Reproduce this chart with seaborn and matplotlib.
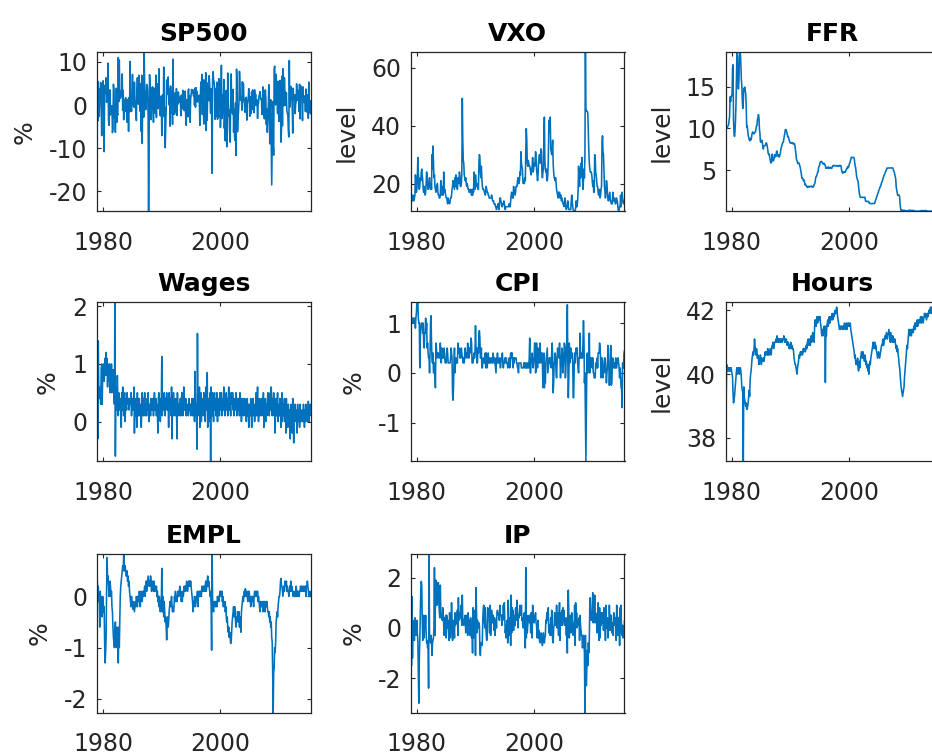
import numpy as np
import pandas as pd
import matplotlib
matplotlib.use("Agg")
import matplotlib.pyplot as plt
import seaborn as sns
from matplotlib.ticker import MultipleLocator, FormatStrFormatter

# Monthly observations, 1979:01 - 2015:06
months = pd.date_range("1979-01-01", "2015-06-01", freq="MS")
t = np.asarray(months.year + (months.month - 1) / 12.0)

# S&P 500, monthly log return (%)
sp500 = [
    3.9, -3.7, 5.4, 0.2, -2.6, 3.8, 0.9, 5.2, 0.0, -7.1, 4.2, 1.7,
    5.6, -0.4, -10.8, 4.0, 4.6, 2.7, 6.3, 0.6, 2.5, 1.6, 9.7, -3.5,
    -4.7, 1.3, 3.5, -2.3, -0.2, -1.0, -0.2, -6.4, -5.5, 4.8, 3.6, -3.0,
    -1.8, -6.3, -1.0, 3.9, -4.0, -2.0, -2.3, 11.0, 0.8, 10.4, 3.5, 1.5,
    3.2, 1.9, 3.2, 7.2, -1.2, 3.4, -3.4, 1.1, 1.0, -1.5, 1.7, -0.9,
    -0.9, -4.0, 1.3, 0.5, -6.1, 1.7, -1.6, 10.1, -0.3, 0.0, -1.5, 2.2,
    7.1, 0.9, -0.3, -0.5, 5.3, 1.2, -0.5, -1.2, -3.6, 4.2, 6.3, 4.4,
    0.2, 6.9, 5.2, -1.4, 4.9, 1.4, -6.1, 6.9, -8.9, 5.4, 2.1, -2.8,
    12.2, 3.6, 2.6, -1.1, 0.6, 4.7, 4.7, 3.4, -2.4, -24.6, -8.9, 7.0,
    3.9, 4.1, -3.4, 0.9, 0.3, 4.2, -0.5, -4.0, 3.9, 2.6, -1.9, 1.5,
    6.9, -2.9, 2.1, 4.9, 3.4, -0.8, 8.4, 1.6, -0.7, -2.5, 1.7, 2.1,
    -7.1, 0.9, 2.4, -2.7, 8.8, -0.9, -0.5, -9.9, -5.2, -0.7, 5.8, 2.5,
    4.1, 6.5, 2.2, 0.0, 3.8, -4.9, 4.4, 2.0, -1.9, 1.2, -4.5, 10.6,
    -2.0, 1.0, -2.2, 2.8, 0.1, -1.7, 3.8, -2.4, 0.9, 0.2, 3.0, 1.0,
    0.7, 1.0, 1.9, -2.5, 2.3, 0.1, -0.5, 3.4, -1.0, 1.9, -1.3, 1.0,
    3.2, -3.0, -4.7, 1.2, 1.2, -2.7, 3.1, 3.7, -2.7, 2.1, -4.0, 1.2,
    2.4, 3.6, 2.7, 2.8, 3.5, 2.1, 3.1, 0.0, 3.9, -0.5, 4.0, 1.7,
    3.2, 0.7, 0.8, 1.3, 2.3, 0.2, -4.7, 1.9, 5.3, 2.6, 7.1, -2.2,
    5.9, 0.6, -4.4, 5.6, 5.7, 4.2, 7.5, -5.9, 5.2, -3.5, 4.4, 1.6,
    1.0, 6.8, 4.9, 0.9, -1.9, 3.8, -1.2, -15.8, 6.0, 7.7, 5.7, 5.4,
    4.0, -3.3, 3.8, 3.7, -2.5, 5.3, -3.3, -0.6, -2.9, 6.1, 1.9, 5.6,
    -5.2, -2.0, 9.2, -3.1, -2.2, 2.4, -1.6, 5.9, -5.4, -0.5, -8.3, 0.4,
    3.4, -9.7, -6.6, 7.4, 0.5, -2.5, -1.1, -6.6, -8.6, 1.8, 7.2, 0.8,
    -1.6, -2.1, 3.6, -6.3, -0.9, -7.5, -8.2, 0.5, -11.7, 8.3, 5.5, -6.2,
    -2.8, -1.7, 0.8, 7.8, 5.0, 1.1, 1.6, 1.8, -1.2, 5.4, 0.7, 5.0,
    1.7, 1.2, -1.6, -1.7, 1.2, 1.8, -3.5, 0.2, 0.9, 1.4, 3.8, 3.2,
    -2.6, 1.9, -1.9, -2.0, 3.0, 0.0, 3.5, -1.1, 0.7, -1.8, 3.5, -0.1,
    2.5, 0.0, 1.1, 1.2, -3.1, 0.0, 0.5, 2.1, 2.4, 3.1, 1.6, 1.3,
    1.4, -2.2, 1.0, 4.2, 3.2, -1.8, -3.2, 1.3, 3.5, 1.5, -4.5, -0.9,
    -6.3, -3.5, -0.6, 4.7, 1.1, -9.0, -1.0, 1.2, -9.5, -18.5, -7.8, 0.8,
    -9.0, -11.6, 8.2, 9.0, 5.2, 0.0, 7.1, 3.3, 3.5, -2.0, 5.5, 1.8,
    -3.8, 2.8, 5.7, 1.5, -8.6, -5.5, 6.7, -4.8, 8.4, 3.6, -0.2, 6.3,
    2.2, 3.1, -0.1, 2.8, -1.4, -1.8, -2.2, -5.9, -7.4, 10.3, -0.5, 0.9,
    4.3, 4.0, 3.1, -0.7, -6.5, 3.9, 1.3, 2.0, 2.4, -2.0, 0.3, 0.7,
    4.9, 1.1, 3.5, 1.8, 2.1, -1.5, 4.8, -3.2, 2.9, 4.4, 2.8, 2.3,
    -3.6, 4.2, 0.7, 0.6, 2.1, 1.9, -1.5, 3.7, -1.6, 2.3, 2.4, -0.4,
    -3.1, 5.3, -1.8, 0.9, 1.0, -2.1,
]

# VXO stock-market volatility index (level)
vxo = [
    17, 16, 15, 14, 16, 15, 14, 15, 16, 23, 21, 17,
    18, 22, 29, 24, 19, 18, 19, 22, 21, 24, 25, 23,
    21, 18, 17, 19, 17, 16, 17, 20, 24, 22, 19, 18,
    19, 21, 22, 19, 18, 20, 18, 30, 25, 33, 27, 22,
    23, 19, 18, 17, 19, 18, 20, 17, 16, 16, 15, 15,
    16, 21, 17, 16, 19, 17, 16, 24, 17, 18, 17, 16,
    15, 15, 14, 13, 15, 14, 14, 13, 14, 15, 15, 16,
    18, 19, 21, 20, 19, 18, 22, 19, 23, 20, 19, 18,
    22, 21, 20, 24, 23, 19, 19, 20, 23, 49.5, 35, 28,
    27, 23, 22, 21, 22, 20, 19, 20, 19, 18, 18, 17,
    17, 18, 17, 17, 16, 18, 16, 18, 17, 24, 19, 18,
    23, 21, 19, 20, 19, 18, 18, 27, 30, 29, 24, 22,
    26, 22, 19, 18, 18, 18, 17, 17, 16, 17, 19, 18,
    17, 17, 16, 16, 15, 15, 15, 15, 15, 16, 15, 14,
    14, 14, 13, 13, 13, 12, 12, 11, 12, 12, 13, 12,
    11, 13, 15, 15, 14, 13, 12, 12, 13, 13, 14, 13,
    12, 11, 12, 12, 12, 12, 12, 12, 12, 13, 12, 12,
    14, 16, 17, 16, 15, 15, 19, 17, 17, 16, 17, 19,
    19, 19, 21, 22, 20, 20, 21, 24, 23, 31, 27, 26,
    25, 21, 20, 21, 20, 22, 21, 32, 39, 35, 27, 26,
    28, 27, 26, 26, 25, 24, 23, 25, 26, 29, 24, 25,
    27, 26, 28, 31, 29, 25, 23, 21, 23, 27, 29, 30,
    28, 27, 32, 31, 24, 22, 24, 25, 37, 43, 28, 25,
    24, 25, 21, 21, 23, 28, 39, 42, 38, 43, 32, 31,
    30, 32, 35, 27, 24, 22, 22, 21, 22, 20, 18, 17,
    16, 15, 17, 16, 17, 15, 16, 16, 14, 15, 14, 13,
    13, 12, 13, 15, 14, 12, 11, 12, 12, 14, 12, 11,
    11, 11, 11, 11, 14, 16, 14, 12, 11, 10.5, 10.5, 10.4,
    10.4, 11.5, 14, 12, 12, 14, 17, 26, 22, 19, 25, 22,
    27, 26, 29, 22, 18, 21, 25, 22, 30, 65.4, 46, 45,
    45, 45, 44, 37, 31, 27, 25, 24, 24, 24, 23, 21,
    19, 21, 17, 17, 30, 29, 24, 23, 21, 19, 19, 17,
    16, 17, 18, 15, 16, 18, 19, 34, 36.5, 31, 30, 24,
    19, 17, 15, 17, 21, 20, 17, 15, 14, 15, 16, 17,
    14, 14, 13, 13, 13, 17, 14, 14, 15, 15, 13, 13,
    14, 15, 14, 13, 11, 10.5, 11, 12, 12, 16, 12, 14,
    17, 15, 14, 13, 13, 14,
]

# Effective federal funds rate (level)
ffr = [
    10.07, 10.06, 10.09, 10.01, 10.24, 10.29, 10.47, 10.94, 11.43, 13.77, 13.18, 13.78,
    13.82, 14.13, 17.19, 17.61, 10.98, 9.47, 9.03, 9.61, 10.87, 12.81, 15.85, 18.90,
    19.08, 15.93, 14.70, 15.72, 18.52, 19.10, 19.04, 17.82, 15.87, 15.08, 13.31, 12.37,
    13.22, 14.78, 14.68, 14.94, 14.45, 14.15, 12.59, 10.12, 10.31, 9.71, 9.20, 8.95,
    8.68, 8.51, 8.77, 8.80, 8.63, 8.98, 9.37, 9.56, 9.45, 9.48, 9.34, 9.47,
    9.56, 9.59, 9.91, 10.29, 10.32, 11.06, 11.23, 11.64, 11.30, 9.99, 9.43, 8.38,
    8.35, 8.50, 8.58, 8.27, 7.97, 7.53, 7.88, 7.90, 7.92, 7.99, 8.05, 8.27,
    8.14, 7.86, 7.48, 6.99, 6.85, 6.92, 6.56, 6.17, 5.89, 5.85, 6.04, 6.91,
    6.43, 6.10, 6.13, 6.37, 6.85, 6.73, 6.58, 6.73, 7.22, 7.29, 6.69, 6.77,
    6.83, 6.58, 6.58, 6.87, 7.09, 7.51, 7.75, 8.01, 8.19, 8.30, 8.35, 8.76,
    9.12, 9.36, 9.85, 9.84, 9.81, 9.53, 9.24, 8.99, 9.02, 8.84, 8.55, 8.45,
    8.23, 8.24, 8.28, 8.26, 8.18, 8.29, 8.15, 8.13, 8.20, 8.11, 7.81, 7.31,
    6.91, 6.25, 6.12, 5.91, 5.78, 5.90, 5.82, 5.66, 5.45, 5.21, 4.81, 4.43,
    4.03, 4.06, 3.98, 3.73, 3.82, 3.76, 3.25, 3.30, 3.22, 3.10, 3.09, 2.92,
    3.02, 3.03, 3.07, 2.96, 3.00, 3.04, 3.06, 3.03, 3.09, 2.99, 3.02, 2.96,
    3.05, 3.25, 3.34, 3.56, 4.01, 4.25, 4.26, 4.47, 4.73, 4.76, 5.29, 5.45,
    5.53, 5.92, 5.98, 6.05, 6.01, 6.00, 5.85, 5.74, 5.80, 5.76, 5.80, 5.60,
    5.56, 5.22, 5.31, 5.22, 5.24, 5.27, 5.40, 5.22, 5.30, 5.24, 5.31, 5.29,
    5.25, 5.19, 5.39, 5.51, 5.50, 5.56, 5.52, 5.54, 5.54, 5.50, 5.52, 5.50,
    5.56, 5.51, 5.49, 5.45, 5.49, 5.56, 5.54, 5.55, 5.51, 5.07, 4.83, 4.68,
    4.63, 4.76, 4.81, 4.74, 4.74, 4.76, 4.99, 5.07, 5.22, 5.20, 5.42, 5.30,
    5.45, 5.73, 5.85, 6.02, 6.27, 6.53, 6.54, 6.50, 6.52, 6.51, 6.51, 6.40,
    5.98, 5.49, 5.31, 4.80, 4.21, 3.97, 3.77, 3.65, 3.07, 2.49, 2.09, 1.82,
    1.73, 1.74, 1.73, 1.75, 1.75, 1.75, 1.73, 1.74, 1.75, 1.75, 1.34, 1.24,
    1.24, 1.26, 1.25, 1.26, 1.26, 1.22, 1.01, 1.03, 1.01, 1.01, 1.00, 0.98,
    1.00, 1.01, 1.00, 1.00, 1.00, 1.03, 1.26, 1.43, 1.61, 1.76, 1.93, 2.16,
    2.28, 2.50, 2.63, 2.79, 3.00, 3.04, 3.26, 3.50, 3.62, 3.78, 4.00, 4.16,
    4.29, 4.49, 4.59, 4.79, 4.94, 4.99, 5.24, 5.25, 5.25, 5.25, 5.25, 5.24,
    5.25, 5.26, 5.26, 5.25, 5.25, 5.25, 5.26, 5.02, 4.94, 4.76, 4.49, 4.24,
    3.94, 2.98, 2.61, 2.28, 1.98, 2.00, 2.01, 2.00, 1.81, 0.97, 0.39, 0.16,
    0.15, 0.22, 0.18, 0.15, 0.18, 0.21, 0.16, 0.16, 0.15, 0.12, 0.12, 0.12,
    0.11, 0.13, 0.16, 0.20, 0.20, 0.18, 0.18, 0.19, 0.19, 0.19, 0.19, 0.18,
    0.17, 0.16, 0.14, 0.10, 0.09, 0.09, 0.07, 0.10, 0.08, 0.07, 0.08, 0.07,
    0.08, 0.10, 0.13, 0.14, 0.16, 0.16, 0.16, 0.13, 0.14, 0.16, 0.16, 0.16,
    0.14, 0.15, 0.14, 0.15, 0.11, 0.09, 0.09, 0.08, 0.08, 0.09, 0.08, 0.09,
    0.07, 0.07, 0.08, 0.09, 0.09, 0.10, 0.09, 0.09, 0.09, 0.09, 0.09, 0.12,
    0.11, 0.11, 0.11, 0.12, 0.12, 0.13,
]

# Hourly earnings, monthly change (%)
wages = [
    0.8, -0.3, 1.4, 0.5, 0.6, 0.4, 0.5, 0.3, 0.9, 1.0, 0.3, 0.8,
    0.9, 1.0, 0.7, 0.9, 1.1, 0.8, 1.2, 0.9, 1.1, 0.6, 1.0, 0.8,
    0.7, 1.0, 0.5, 0.9, 0.6, 1.0, 0.5, 0.8, 0.9, 0.6, 0.5, 0.3,
    2.07, -0.6, 0.6, 0.5, 0.2, 0.8, 0.4, 0.1, 0.5, 0.3, 0.2, 0.4,
    0.3, -0.1, 0.5, 0.2, 0.6, 0.3, 0.1, 0.4, 0.5, 0.0, 0.4, 0.3,
    0.2, 0.5, 0.3, 0.3, 0.4, 0.2, 0.3, 0.4, 0.3, 0.5, 0.1, 0.3,
    0.4, 0.2, 0.3, 0.6, -0.2, 0.3, 0.1, 0.4, 0.2, -0.1, 0.5, 0.2,
    0.1, 0.2, 0.4, 0.1, 0.2, 0.3, -0.1, 0.2, 0.5, 0.2, 0.1, 0.4,
    0.2, 0.5, 0.1, 0.3, 0.2, 0.1, 0.4, 0.2, 0.5, 0.2, 0.0, 0.3,
    0.3, 0.1, 0.4, 0.2, 0.3, 0.2, 0.4, 0.1, 0.3, 0.5, 0.2, 0.3,
    0.4, 0.1, 0.3, 0.2, -0.2, 0.4, 0.5, 0.2, 0.3, 0.0, 0.4, 0.3,
    1.13, 0.1, 0.4, 0.3, 0.2, 0.5, 0.3, 0.1, 0.4, 0.3, 0.5, 0.2,
    0.3, 0.4, -0.1, 0.5, 0.3, 0.2, 0.4, 0.1, 0.6, -0.3, 0.4, 0.3,
    0.5, 0.1, 0.3, 0.2, 0.4, 0.1, 0.3, -0.3, 0.5, 0.2, 0.3, 0.1,
    0.3, 0.2, 0.4, 0.1, 0.3, 0.5, 0.2, 0.1, 0.3, 0.6, 0.2, 0.3,
    0.2, 0.4, 0.1, 0.3, 0.2, 0.3, 0.1, 0.2, 0.4, 0.2, 0.3, 0.1,
    0.3, 0.2, 0.4, 0.1, 0.3, 0.2, 0.4, 0.0, 0.87, 0.1, 0.3, 0.2,
    -0.48, 1.53, 0.2, 0.4, 0.1, 0.6, -0.1, 0.3, 0.5, 0.0, 0.4, 0.2,
    0.3, 0.1, 0.5, 0.2, 0.4, 0.0, 0.6, 0.2, 0.3, 0.85, -0.1, 0.3,
    0.4, 0.0, 0.3, 0.5, -0.69, 0.6, 0.3, 0.1, 0.5, 0.2, 0.0, 0.4,
    0.5, 0.2, 0.4, 0.1, 0.3, 0.5, 0.0, 0.4, 0.2, 0.3, 0.1, 0.5,
    0.4, 0.2, 0.5, 0.1, 0.3, 0.4, 0.2, 0.6, 0.3, 0.1, 0.4, 0.3,
    0.5, 0.2, 0.4, 0.1, 0.3, 0.6, 0.2, 0.4, 0.3, 0.1, 0.5, 0.4,
    0.3, 0.5, 0.2, 0.4, 0.1, 0.3, 0.4, 0.2, 0.5, 0.3, 0.1, 0.4,
    0.2, 0.4, 0.3, 0.1, 0.5, 0.2, 0.4, 0.0, 0.3, 0.2, 0.4, 0.1,
    0.3, 0.2, 0.4, 0.1, 0.3, 0.0, 0.2, 0.4, 0.1, 0.3, -0.1, 0.2,
    0.3, 0.1, 0.4, 0.2, -0.1, 0.3, 0.2, 0.4, 0.1, 0.3, 0.0, 0.2,
    0.2, 0.5, 0.1, 0.3, 0.6, 0.2, 0.0, 0.3, 0.4, 0.1, 0.3, 0.2,
    0.4, 0.1, 0.3, 0.2, 0.5, -0.1, 0.3, 0.2, 0.4, 0.0, 0.3, 0.1,
    0.3, 0.5, 0.2, 0.4, 0.1, 0.3, 0.5, 0.2, 0.6, 0.3, 0.1, 0.4,
    0.2, 0.5, 0.1, 0.3, -0.2, 0.4, 0.2, 0.1, 0.3, 0.5, 0.0, 0.2,
    0.3, 0.1, 0.4, 0.2, -0.1, 0.3, 0.5, 0.0, 0.2, 0.3, 0.1, 0.4,
    0.0, 0.3, -0.2, 0.4, 0.1, 0.2, -0.1, 0.3, 0.0, 0.2, 0.1, -0.3,
    0.3, 0.0, 0.2, -0.2, 0.4, 0.1, -0.37, 0.2, 0.1, 0.3, 0.0, 0.2,
    0.1, -0.2, 0.3, 0.0, 0.2, 0.1, -0.1, 0.3, 0.0, 0.2, 0.1, 0.0,
    0.2, 0.0, 0.3, 0.1, -0.1, 0.2, 0.0, 0.3, 0.1, 0.2, 0.0, 0.1,
    0.35, 0.0, 0.2, 0.1, 0.3, 0.2,
]

# Consumer prices, monthly change (%)
cpi = [
    0.9, 1.1, 1.0, 1.1, 1.1, 1.0, 1.1, 1.0, 1.1, 0.9, 1.1, 1.2,
    1.4, 1.4, 1.42, 1.1, 1.0, 1.0, 0.1, 0.7, 0.9, 1.0, 1.0, 1.0,
    0.8, 1.0, 0.6, 0.5, 0.8, 0.8, 1.1, 0.8, 1.0, 0.5, 0.6, 0.4,
    0.3, 0.3, 0.0, 0.4, 1.0, 1.15, 0.6, 0.3, 0.2, 0.4, 0.0, 0.0,
    0.2, 0.0, -0.3, 0.6, 0.5, 0.3, 0.4, 0.4, 0.4, 0.3, 0.3, 0.3,
    0.6, 0.4, 0.2, 0.5, 0.3, 0.3, 0.3, 0.4, 0.5, 0.3, 0.2, 0.2,
    0.2, 0.4, 0.5, 0.4, 0.2, 0.2, 0.2, 0.2, 0.2, 0.3, 0.5, 0.4,
    0.3, -0.4, -0.55, -0.3, 0.2, 0.5, 0.0, 0.2, 0.3, 0.2, 0.2, 0.2,
    0.6, 0.4, 0.4, 0.5, 0.3, 0.4, 0.3, 0.5, 0.4, 0.3, 0.3, 0.2,
    0.3, 0.2, 0.4, 0.5, 0.3, 0.4, 0.4, 0.3, 0.6, 0.4, 0.3, 0.3,
    0.5, 0.4, 0.5, 0.7, 0.6, 0.2, 0.2, 0.2, 0.3, 0.4, 0.3, 0.4,
    0.95, 0.5, 0.5, 0.2, 0.2, 0.5, 0.4, 0.8, 0.85, 0.7, 0.3, 0.3,
    0.5, 0.1, 0.1, 0.2, 0.3, 0.3, 0.2, 0.2, 0.4, 0.1, 0.4, 0.3,
    0.1, 0.3, 0.4, 0.2, 0.2, 0.3, 0.2, 0.2, 0.3, 0.3, 0.2, 0.2,
    0.4, 0.3, 0.2, 0.3, 0.2, 0.1, 0.0, 0.3, 0.2, 0.4, 0.2, 0.2,
    0.2, 0.3, 0.3, 0.1, 0.2, 0.3, 0.3, 0.4, 0.2, 0.1, 0.2, 0.2,
    0.3, 0.3, 0.2, 0.3, 0.2, 0.2, 0.1, 0.2, 0.2, 0.3, 0.1, 0.2,
    0.4, 0.3, 0.4, 0.4, 0.2, 0.1, 0.3, 0.2, 0.3, 0.3, 0.3, 0.3,
    0.2, 0.2, 0.1, 0.1, 0.0, 0.2, 0.2, 0.2, 0.2, 0.2, 0.1, 0.1,
    0.1, 0.1, 0.1, 0.2, 0.2, 0.1, 0.2, 0.1, 0.1, 0.2, 0.1, 0.1,
    0.2, 0.1, 0.3, 0.7, 0.0, 0.0, 0.3, 0.3, 0.4, 0.2, 0.1, 0.2,
    0.3, 0.6, 0.6, 0.0, 0.1, 0.6, 0.3, 0.1, 0.5, 0.2, 0.2, 0.2,
    0.6, 0.4, 0.2, 0.4, 0.4, 0.2, -0.3, 0.0, 0.4, -0.3, -0.1, -0.2,
    0.2, 0.3, 0.4, 0.5, 0.0, 0.1, 0.2, 0.3, 0.2, 0.3, 0.2, 0.1,
    0.4, 0.6, 0.3, -0.4, -0.2, 0.2, 0.2, 0.4, 0.3, 0.0, -0.1, 0.2,
    0.5, 0.4, 0.4, 0.3, 0.6, 0.3, -0.1, 0.1, 0.3, 0.5, 0.3, 0.0,
    0.2, 0.4, 0.6, 0.5, -0.1, 0.1, 0.5, 0.6, 1.37, 0.2, -0.5, -0.1,
    0.6, 0.2, 0.3, 0.5, 0.4, 0.3, 0.4, 0.2, -0.5, -0.5, 0.1, 0.4,
    0.2, 0.4, 0.5, 0.4, 0.5, 0.2, 0.1, 0.0, 0.3, 0.3, 0.8, 0.3,
    0.4, 0.3, 0.3, 0.3, 0.6, 1.05, 0.7, -0.2, 0.0, -1.0, -1.78, -0.8,
    0.3, 0.4, 0.0, 0.1, 0.1, 0.8, 0.0, 0.3, 0.2, 0.3, 0.3, 0.1,
    0.3, 0.0, 0.0, -0.1, -0.1, -0.1, 0.2, 0.2, 0.1, 0.3, 0.1, 0.4,
    0.4, 0.4, 0.6, 0.5, 0.3, -0.1, 0.3, 0.3, 0.2, -0.1, 0.1, 0.0,
    0.3, 0.3, 0.2, 0.0, -0.2, 0.0, 0.1, 0.55, 0.5, 0.1, -0.25, 0.0,
    0.1, 0.55, -0.25, -0.2, 0.1, 0.3, 0.2, 0.1, 0.2, 0.1, 0.1, 0.3,
    0.1, 0.1, 0.2, 0.3, 0.3, 0.2, 0.1, -0.1, 0.1, -0.1, -0.3, -0.3,
    -0.7, 0.2, 0.2, 0.1, 0.4, 0.45,
]

# Average weekly hours (level)
hours = [
    40.6, 39.3, 40.3, 40.2, 40.1, 40.2, 40.1, 40.2, 40.1, 40.2, 40.1, 40.2,
    40.1, 40.0, 39.9, 39.4, 39.1, 39.2, 39.3, 39.5, 39.7, 39.9, 40.1, 40.2,
    40.0, 40.1, 40.2, 40.2, 40.0, 40.1, 40.2, 40.1, 39.9, 39.6, 39.5, 39.4,
    37.27, 39.6, 39.3, 39.2, 39.1, 39.0, 39.1, 38.9, 38.9, 39.0, 39.1, 39.3,
    39.5, 39.3, 39.8, 40.0, 40.1, 40.3, 40.5, 40.6, 40.7, 40.6, 40.8, 41.1,
    40.9, 40.7, 40.6, 40.8, 40.7, 40.5, 40.6, 40.5, 40.3, 40.4, 40.5, 40.6,
    40.5, 40.3, 40.5, 40.4, 40.4, 40.5, 40.4, 40.5, 40.6, 40.7, 40.6, 40.7,
    40.7, 40.6, 40.8, 40.6, 40.7, 40.6, 40.7, 40.8, 40.7, 40.6, 40.8, 40.9,
    40.9, 41.0, 40.8, 40.9, 41.0, 41.0, 41.0, 41.1, 41.0, 41.2, 41.1, 41.0,
    41.1, 41.0, 41.1, 41.1, 41.0, 41.1, 41.1, 41.0, 41.0, 41.1, 41.1, 41.2,
    41.1, 41.0, 41.1, 41.0, 41.1, 41.0, 40.9, 41.0, 41.0, 40.9, 40.8, 40.9,
    40.8, 41.0, 40.9, 40.8, 40.9, 40.8, 40.8, 40.7, 40.5, 40.4, 40.3, 40.3,
    40.2, 40.1, 40.0, 40.2, 40.3, 40.4, 40.6, 40.5, 40.6, 40.7, 40.6, 40.7,
    40.7, 40.6, 40.7, 40.8, 40.7, 40.8, 40.8, 40.7, 40.8, 40.9, 40.8, 41.0,
    41.0, 41.1, 40.9, 41.0, 41.1, 40.9, 41.0, 41.2, 41.0, 41.1, 41.3, 41.2,
    41.2, 41.0, 41.5, 41.7, 41.6, 41.5, 41.7, 41.8, 41.6, 41.7, 41.8, 41.8,
    41.7, 41.8, 41.6, 41.5, 41.3, 41.2, 41.4, 41.2, 41.3, 41.5, 41.4, 41.5,
    39.74, 41.5, 41.2, 41.5, 41.6, 41.7, 41.5, 41.7, 41.8, 41.6, 41.7, 41.8,
    41.7, 41.8, 41.9, 41.7, 41.8, 41.9, 41.8, 41.9, 42.0, 41.9, 41.9, 42.1,
    42.0, 41.8, 41.7, 41.6, 41.5, 41.4, 41.5, 41.4, 41.5, 41.5, 41.5, 41.4,
    41.5, 41.4, 41.5, 41.6, 41.5, 41.4, 41.5, 41.6, 41.4, 41.5, 41.6, 41.5,
    41.6, 41.5, 41.5, 41.6, 41.4, 41.3, 41.2, 41.1, 41.0, 40.9, 40.8, 40.7,
    40.5, 40.6, 40.4, 40.3, 40.4, 40.3, 40.5, 40.2, 40.1, 40.3, 40.4, 40.2,
    40.5, 40.6, 40.7, 40.6, 40.5, 40.7, 40.6, 40.5, 40.4, 40.6, 40.5, 40.3,
    40.4, 40.2, 40.3, 40.1, 40.3, 40.0, 40.2, 40.4, 40.3, 40.5, 40.6, 40.7,
    40.8, 40.9, 41.0, 40.8, 40.9, 41.0, 40.8, 40.9, 40.8, 40.7, 40.6, 40.5,
    40.6, 40.7, 40.6, 40.5, 40.6, 40.7, 40.8, 40.9, 40.9, 41.0, 41.1, 40.9,
    41.0, 41.1, 41.2, 41.1, 41.2, 41.3, 41.2, 41.1, 41.2, 41.3, 41.4, 41.3,
    41.2, 41.0, 41.3, 41.2, 41.1, 41.0, 41.2, 41.0, 41.1, 41.0, 41.1, 41.0,
    40.9, 40.8, 40.9, 40.7, 40.8, 40.6, 40.5, 40.3, 40.2, 40.0, 39.8, 39.6,
    39.5, 39.4, 39.3, 39.4, 39.5, 39.6, 39.9, 40.1, 40.3, 40.5, 40.7, 40.9,
    40.8, 41.0, 41.2, 41.4, 41.3, 41.2, 41.4, 41.3, 41.2, 41.4, 41.3, 41.4,
    41.3, 41.5, 41.4, 41.6, 41.4, 41.6, 41.5, 41.6, 41.7, 41.5, 41.6, 41.7,
    41.7, 41.6, 41.7, 41.8, 41.6, 41.7, 41.8, 41.7, 41.6, 41.7, 41.8, 41.9,
    41.8, 41.9, 41.8, 41.7, 41.8, 41.9, 41.8, 41.9, 42.0, 41.9, 42.0, 42.1,
    42.0, 41.9, 42.1, 42.0, 42.1, 42.0, 42.1, 42.0, 42.1, 42.1, 42.25, 42.2,
    42.1, 41.9, 42.0, 41.8, 41.9, 41.9,
]

# Employment, monthly change (%)
empl = [
    0.3, 0.0, 0.2, -0.1, 0.0, -0.6, 0.1, -0.3, 0.0, -0.2, -0.4, 0.0,
    -0.1, -0.3, -0.2, -0.9, -1.3, -1.1, -0.8, 0.1, 0.76, 0.3, 0.4, 0.2,
    0.0, 0.1, 0.3, 0.2, 0.0, 0.1, -0.2, -0.3, -0.6, -0.8, -0.9, -1.0,
    -0.7, -0.5, -0.9, -1.0, -0.6, -0.8, -0.9, -1.3, -0.6, -1.0, -0.5, 0.0,
    0.2, 0.3, 0.4, 0.5, 0.6, 0.5, 0.83, 0.6, 0.5, 0.6, 0.5, 0.4,
    0.4, 0.5, 0.3, 0.4, 0.2, 0.3, 0.1, 0.0, -0.1, -0.2, 0.0, -0.1,
    -0.2, -0.25, -0.1, -0.2, -0.3, -0.2, -0.1, -0.2, 0.0, -0.1, -0.2, 0.0,
    0.0, -0.1, 0.1, 0.0, -0.2, 0.0, 0.1, 0.0, -0.1, 0.1, 0.0, 0.1,
    0.1, 0.2, 0.0, 0.2, 0.3, 0.1, 0.2, 0.3, 0.4, 0.3, 0.2, 0.3,
    0.2, 0.4, 0.3, 0.1, 0.2, 0.3, 0.2, 0.1, 0.3, 0.2, 0.1, 0.2,
    0.1, 0.2, 0.0, 0.1, -0.1, 0.0, -0.2, 0.0, -0.1, -0.3, -0.1, -0.2,
    0.55, -0.3, 0.0, -0.2, -0.4, -0.1, -0.3, -0.5, -0.4, -0.6, -0.85, -0.5,
    -0.4, -0.6, -0.5, -0.3, -0.2, -0.1, -0.2, -0.1, 0.0, -0.2, -0.3, -0.2,
    -0.3, -0.2, 0.0, -0.1, 0.1, -0.1, 0.0, -0.1, 0.0, 0.1, 0.0, 0.1,
    0.1, 0.2, 0.0, 0.1, -0.1, 0.0, -0.1, 0.1, 0.0, 0.1, 0.2, 0.1,
    0.2, 0.1, 0.2, 0.3, 0.2, 0.1, 0.2, 0.3, 0.2, 0.3, 0.2, 0.3,
    0.2, 0.1, 0.0, -0.1, -0.3, -0.1, -0.2, 0.0, -0.1, -0.2, -0.1, 0.0,
    -0.1, 0.1, -0.2, 0.0, 0.1, 0.0, 0.1, 0.0, 0.1, 0.0, 0.2, 0.1,
    0.1, 0.2, 0.1, 0.2, 0.1, 0.2, 0.3, 0.1, 0.2, 0.3, 0.4, 0.2,
    0.3, 0.2, 0.1, 0.0, 0.1, -0.2, -1.05, 0.83, -0.1, -0.2, -0.3, -0.1,
    -0.1, -0.2, -0.1, -0.2, -0.1, -0.2, 0.0, -0.1, 0.0, -0.1, 0.0, 0.1,
    0.0, 0.1, 0.0, 0.1, -0.1, 0.0, -0.2, -0.1, -0.2, -0.1, -0.3, -0.2,
    -0.4, -0.5, -0.4, -0.6, -0.7, -0.6, -0.8, -0.7, -0.8, -0.92, -0.9, -0.7,
    -0.5, -0.4, -0.3, -0.2, -0.4, -0.2, -0.3, -0.5, -0.6, -0.4, -0.5, -0.3,
    -0.4, -0.5, -0.3, -0.6, -0.4, -0.5, -0.7, -0.3, -0.2, -0.1, 0.0, -0.1,
    0.0, 0.1, 0.0, 0.15, 0.1, 0.0, 0.1, 0.0, -0.1, 0.1, 0.0, 0.1,
    -0.1, 0.0, -0.2, -0.1, 0.0, -0.1, 0.0, -0.1, -0.2, 0.0, 0.1, 0.0,
    0.1, 0.0, 0.1, 0.0, 0.1, -0.1, 0.0, -0.1, -0.2, -0.3, -0.1, -0.2,
    -0.1, -0.2, -0.1, -0.3, -0.1, -0.2, -0.1, -0.3, -0.2, -0.1, -0.2, -0.1,
    -0.2, -0.3, -0.3, -0.4, -0.3, -0.5, -0.4, -0.6, -0.5, -0.8, -0.9, -1.5,
    -2.28, -1.5, -1.4, -1.0, -1.1, -0.9, -0.5, -0.4, -0.3, -0.4, -0.2, -0.1,
    0.0, 0.0, 0.1, 0.3, 0.35, 0.2, 0.2, 0.1, 0.0, 0.1, 0.2, 0.1,
    0.3, 0.2, 0.2, 0.3, 0.1, 0.2, 0.1, 0.1, 0.0, 0.1, 0.2, 0.1,
    0.3, 0.1, 0.2, 0.1, 0.1, 0.0, 0.1, 0.0, 0.0, 0.1, 0.0, 0.2,
    0.1, 0.0, 0.1, 0.0, 0.1, 0.0, 0.1, 0.1, 0.2, 0.1, 0.2, 0.2,
    0.1, 0.1, 0.2, 0.1, 0.1, 0.2, 0.2, 0.0, 0.2, 0.2, 0.3, 0.2,
    0.1, 0.0, 0.0, 0.1, 0.0, 0.05,
]

# Industrial production, monthly change (%)
ip = [
    -0.5, -1.5, 1.25, -1.2, 0.3, 0.2, -0.2, -0.5, 0.4, 0.2, -0.3, 0.0,
    0.3, -0.2, -0.5, -1.9, -3.0, -1.3, -0.5, 0.6, 1.5, 1.85, 1.7, 0.4,
    -0.5, 0.2, 0.5, -0.4, 0.4, 0.1, 0.5, -0.2, -0.6, -0.5, -0.8, -0.6,
    -2.4, 2.94, -0.4, -0.5, -0.6, -0.3, -0.5, -1.1, -0.6, -0.5, -0.4, 0.0,
    2.4, -0.3, 1.0, 1.9, 1.3, 0.9, 1.8, 1.5, 1.8, 1.0, 0.6, 0.4,
    1.7, 0.6, 0.4, 0.5, 0.3, 0.8, 0.4, 0.1, -0.3, 0.4, 0.2, 0.5,
    -0.4, 0.5, 0.2, 0.0, 0.3, -0.2, -0.5, 0.6, 0.1, -0.4, 0.3, 1.0,
    0.4, -0.5, -0.3, 0.3, 0.0, -0.4, 0.6, 0.1, 0.3, 0.2, 0.5, 0.7,
    -0.3, 1.2, 0.3, 0.5, 0.6, 0.4, 0.9, 0.4, 0.1, 1.3, 0.2, 0.3,
    0.1, 0.3, 0.4, 0.5, -0.2, 0.3, 0.5, 0.4, -0.3, 0.6, 0.1, 0.3,
    0.2, -0.3, 0.4, 0.1, -0.4, -0.1, -1.0, 0.8, -0.4, -0.3, 0.3, 0.7,
    -1.1, 1.6, 0.6, -0.2, 0.3, 0.2, 0.0, 0.2, 0.1, -0.8, -1.1, -0.6,
    -0.6, -0.7, -0.5, 0.4, 0.8, 0.9, 0.3, 0.0, 0.8, 0.1, -0.3, -0.5,
    -0.4, 0.8, 0.7, 0.6, 0.4, -0.2, 0.9, -0.3, 0.3, 0.7, 0.3, 0.2,
    0.5, 0.4, -0.1, 0.4, -0.3, 0.1, 0.3, 0.0, 0.6, 0.7, 0.5, 0.6,
    0.4, 0.3, 0.9, 0.5, 0.5, 0.5, 0.1, 0.5, 0.3, 0.9, 0.6, 1.0,
    0.3, -0.2, 0.0, -0.4, 0.2, 0.3, -0.6, 1.1, 0.4, -0.3, 0.1, 0.4,
    -0.7, 1.3, -0.2, 0.8, 0.5, 0.7, -0.1, 0.5, 0.4, 0.1, 0.8, 0.6,
    0.3, 1.1, 0.6, 0.0, 0.5, 0.4, 0.6, 0.9, 0.8, 0.5, 0.9, 0.3,
    0.4, 0.0, 0.1, 0.4, 0.6, -0.5, -0.8, 2.4, -0.4, 0.5, -0.2, 0.1,
    0.4, 0.3, 0.5, 0.2, 0.5, -0.2, 0.6, 0.3, -0.4, 0.9, 0.6, 0.4,
    0.2, 0.4, 0.5, 0.6, 0.2, 0.1, -0.4, -0.2, 0.3, -0.4, -0.1, -0.5,
    -0.6, -0.5, -0.2, -0.4, -0.5, -0.7, -0.4, -0.2, -0.5, -0.6, -0.4, -0.3,
    0.3, 0.2, 0.6, 0.3, 0.4, 0.8, -0.2, 0.1, 0.0, -0.3, 0.4, -0.3,
    0.7, 0.1, -0.5, -0.6, 0.0, 0.1, 0.6, 0.1, 0.5, 0.2, 0.9, 0.0,
    0.4, 0.6, -0.3, 0.5, 1.0, -0.5, 0.6, 0.1, 0.2, 0.7, 0.1, 0.8,
    0.4, 0.7, 0.2, 0.1, 0.3, 0.4, -0.3, 0.3, -1.0, 1.1, 1.5, 0.6,
    -0.4, 0.1, 0.5, 0.4, -0.2, 0.6, 0.3, 0.2, -0.3, 0.1, -0.1, 0.9,
    -0.7, 1.0, 0.2, 0.6, 0.0, 0.3, 0.1, 0.2, 0.4, -0.5, 0.5, 0.1,
    -0.1, -0.3, -0.3, -0.8, -0.4, -0.3, -0.6, -1.0, -3.39, -0.3, -1.9, -2.3,
    -1.5, -0.9, -1.5, -0.6, -1.0, -0.4, 1.0, 1.2, 0.6, 0.3, 0.6, 0.4,
    1.4, 0.2, 0.7, 0.5, 1.3, 0.2, 0.6, 0.3, 0.2, -0.2, 0.3, 1.0,
    -0.1, -0.5, 0.8, -0.4, 0.3, 0.1, 0.6, 0.4, 0.2, 0.6, -0.1, 0.8,
    0.2, 0.2, -0.5, 0.9, 0.0, 0.1, 0.4, -0.4, 0.3, -0.1, 0.9, 0.3,
    -0.1, 0.5, 0.5, -0.2, 0.1, 0.2, -0.3, 0.6, 0.5, 0.1, 0.4, 0.3,
    -0.5, 0.9, 0.7, -0.3, 0.4, 0.2, 0.2, -0.7, 0.8, 0.1, 0.9, -0.2,
    -0.3, 0.1, -0.4, -0.3, -0.2, 0.3,
]

titles = ["SP500", "VXO", "FFR", "Wages", "CPI", "Hours", "EMPL", "IP"]
units = ["%", "level", "level", "%", "%", "level", "%", "%"]
series = [sp500, vxo, ffr, wages, cpi, hours, empl, ip]
ytick_steps = [10, 20, 5, 1, 1, 2, 1, 2]

sns.set_theme(style="white")
plt.rcParams["font.family"] = ["DejaVu Sans"]
plt.rcParams["axes.unicode_minus"] = False

LINE = "#0072BD"
INK = "#262626"

W, H = 932, 755
fig = plt.figure(figsize=(W / 100, H / 100), dpi=100)
fig.patch.set_facecolor("white")

col_left = [97.3, 411.0, 725.7]
row_top = [52.3, 302.3, 554.0]
ax_w, ax_h = 213.5, 159.0

for i, (name, unit, vals, step) in enumerate(zip(titles, units, series, ytick_steps)):
    r, c = divmod(i, 3)
    ax = fig.add_axes([col_left[c] / W, 1 - (row_top[r] + ax_h) / H, ax_w / W, ax_h / H])
    df = pd.DataFrame({"date": t, "value": np.asarray(vals, dtype=float)})
    sns.lineplot(data=df, x="date", y="value", ax=ax, color=LINE, linewidth=1.15,
                 estimator=None)
    ax.set_xlim(df["date"].min(), df["date"].max())
    ax.set_ylim(df["value"].min(), df["value"].max())
    ax.xaxis.set_major_locator(MultipleLocator(20))
    ax.yaxis.set_major_locator(MultipleLocator(step))
    ax.xaxis.set_major_formatter(FormatStrFormatter("%d"))
    ax.yaxis.set_major_formatter(FormatStrFormatter("%g"))
    ax.tick_params(direction="in", length=3, width=0.8, color=INK, labelcolor=INK,
                   labelsize=17, top=True, right=True, bottom=True, left=True)
    ax.tick_params(axis="x", pad=14)
    ax.tick_params(axis="y", pad=7)
    for sp in ax.spines.values():
        sp.set_color(INK)
        sp.set_linewidth(0.9)
    ax.set_title(name, fontsize=18, fontweight="bold", pad=8, color="black")
    ax.set_ylabel(unit, fontsize=18, labelpad=9, color=INK)
    ax.set_xlabel("")
    ax.set_facecolor("white")

fig.savefig("out.png", dpi=100, facecolor="white")
